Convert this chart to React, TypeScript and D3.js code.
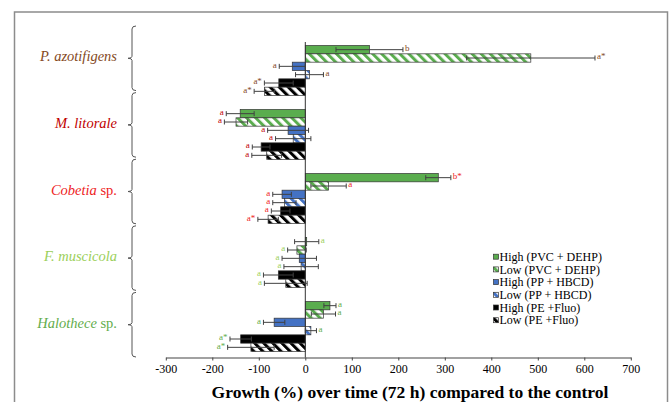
import React, { useEffect, useRef } from 'react';
import * as d3 from 'd3';

// species (top to bottom) and their label colours
const species = ['P. azotifigens', 'M. litorale', 'Cobetia sp.', 'F. muscicola', 'Halothece sp.'];
const speciesColors = ['#84491d', '#c00000', '#ee1c24', '#9bcf5a', '#63ad4c'];

// series, in drawing order within each group
const seriesNames = ['High (PVC + DEHP)', 'Low (PVC + DEHP)', 'High (PP + HBCD)', 'Low (PP + HBCD)', 'High (PE +Fluo)', 'Low (PE +Fluo)'];

// growth (%) per species, for each series
const highPVC = [138, -140, 286, 3, 53];
const lowPVC = [485, -149, 50, -18, 39];
const highPP = [-28, -37, -50, -13, -67];
const lowPP = [9, -26, -45, -9, 12];
const highPE = [-57, -95, -53, -58, -139];
const lowPE = [-88, -83, -80, -42, -117];

// standard deviations
const sdHighPVC = [72, 30, 27, 26, 13];
const sdLowPVC = [138, 25, 38, 20, 26];
const sdHighPP = [28, 44, 20, 37, 23];
const sdLowPP = [30, 38, 25, 37, 12];
const sdHighPE = [31, 19, 20, 32, 23];
const sdLowPE = [22, 32, 22, 46, 50];

// significance letters
const letHighPVC = ['b', 'a', 'b*', 'a', 'a'];
const letLowPVC = ['a*', 'a', 'a', 'a', 'a'];
const letHighPP = ['a', 'a', 'a', 'a', 'a'];
const letLowPP = ['a', 'a', 'a', 'a', 'a'];
const letHighPE = ['a*', 'a', 'a', 'a', 'a*'];
const letLowPE = ['a*', 'a', 'a*', 'a', 'a*'];

const xTicks = [-300, -200, -100, 0, 100, 200, 300, 400, 500, 600, 700];

const FONT = "'Liberation Serif', 'Times New Roman', Tinos, 'DejaVu Serif', serif";

const App = () => {
  const svgRef = useRef(null);

  useEffect(() => {
    const svg = d3.select(svgRef.current);
    svg.selectAll('*').remove();

    const series = [
      { name: seriesNames[0], values: highPVC, sd: sdHighPVC, letters: letHighPVC, color: '#5aad4e', hatch: false },
      { name: seriesNames[1], values: lowPVC, sd: sdLowPVC, letters: letLowPVC, color: '#5aad4e', hatch: true },
      { name: seriesNames[2], values: highPP, sd: sdHighPP, letters: letHighPP, color: '#4472c4', hatch: false },
      { name: seriesNames[3], values: lowPP, sd: sdLowPP, letters: letLowPP, color: '#4472c4', hatch: true },
      { name: seriesNames[4], values: highPE, sd: sdHighPE, letters: letHighPE, color: '#000000', hatch: false },
      { name: seriesNames[5], values: lowPE, sd: sdLowPE, letters: letLowPE, color: '#000000', hatch: true },
    ];

    const x = d3.scaleLinear().domain([-300, 700]).range([165.8, 630.8]);
    const axisY = 357.5;

    const yGroup = d3.scaleBand()
      .domain(species)
      .range([38.5, 358.5])
      .paddingInner(0.21875)
      .paddingOuter(0.109375);

    const yInner = d3.scaleBand()
      .domain(seriesNames)
      .range([0, yGroup.bandwidth()]);

    // the bracketed labels on the left sit on their own spacing
    const yLabel = d3.scaleBand().domain(species).range([25, 358]);

    // outer frame
    svg.append('rect')
      .attr('x', 14.5)
      .attr('y', 12)
      .attr('width', 653)
      .attr('height', 400)
      .attr('fill', 'white')
      .attr('stroke', '#8c8c8c')
      .attr('stroke-width', 1.5);

    // hatch patterns for the "Low" series
    const defs = svg.append('defs');
    series.forEach((s, i) => {
      if (!s.hatch) return;
      const p = defs.append('pattern')
        .attr('id', `hatch-${i}`)
        .attr('patternUnits', 'userSpaceOnUse')
        .attr('width', 6.4)
        .attr('height', 6.4)
        .attr('patternTransform', 'rotate(-45)');
      p.append('rect').attr('width', 6.4).attr('height', 6.4).attr('fill', 'white');
      p.append('rect').attr('width', 3).attr('height', 6.4).attr('fill', s.color);
    });

    const fillOf = (s, i) => (s.hatch ? `url(#hatch-${i})` : s.color);

    // bars
    series.forEach((s, j) => {
      const g = svg.append('g');
      g.selectAll('rect')
        .data(species)
        .enter().append('rect')
        .attr('x', (d, i) => x(Math.min(0, s.values[i])))
        .attr('y', d => yGroup(d) + yInner(s.name))
        .attr('width', (d, i) => Math.abs(x(s.values[i]) - x(0)))
        .attr('height', yInner.bandwidth())
        .attr('fill', fillOf(s, j))
        .attr('stroke', '#333')
        .attr('stroke-width', 0.7);
    });

    // zero line
    svg.append('line')
      .attr('x1', x(0)).attr('x2', x(0))
      .attr('y1', 42).attr('y2', axisY)
      .attr('stroke', '#333')
      .attr('stroke-width', 1);

    // error bars and letters
    series.forEach(s => {
      species.forEach((sp, i) => {
        const v = s.values[i];
        const e = s.sd[i];
        const cy = yGroup(sp) + yInner(s.name) + yInner.bandwidth() / 2;
        const g = svg.append('g').attr('stroke', '#404040').attr('stroke-width', 1);
        g.append('line').attr('x1', x(v - e)).attr('x2', x(v + e)).attr('y1', cy).attr('y2', cy);
        [v - e, v + e].forEach(end => {
          g.append('line').attr('x1', x(end)).attr('x2', x(end)).attr('y1', cy - 2.5).attr('y2', cy + 2.5);
        });
        svg.append('text')
          .attr('x', v >= 0 ? x(v + e) + 2 : x(v - e) - 2.5)
          .attr('y', cy - 1.5)
          .attr('dy', '0.32em')
          .attr('text-anchor', v >= 0 ? 'start' : 'end')
          .style('font-family', FONT)
          .attr('font-size', 9)
          .attr('fill', speciesColors[i])
          .text(s.letters[i]);
      });
    });

    // x axis
    const axis = svg.append('g')
      .attr('transform', `translate(0,${axisY})`)
      .call(d3.axisBottom(x).tickValues(xTicks).tickSize(3).tickSizeOuter(0).tickPadding(4).tickFormat(d => String(d)));
    axis.select('.domain').attr('stroke', '#444').attr('stroke-width', 1.2);
    axis.selectAll('.tick line').attr('stroke', '#444');
    axis.selectAll('.tick text')
      .style('font-family', FONT)
      .attr('font-size', 12)
      .attr('fill', 'black');

    svg.append('text')
      .attr('x', 410)
      .attr('y', 398)
      .attr('text-anchor', 'middle')
      .style('font-family', FONT)
      .attr('font-size', 17.5)
      .attr('font-weight', 'bold')
      .text('Growth (%) over time (72 h) compared to the control');

    // species brackets and labels
    species.forEach((sp, i) => {
      const top = yLabel(sp) + 1;
      const bot = yLabel(sp) + yLabel.bandwidth() - 1;
      const mid = (top + bot) / 2;
      const bx = 132;
      svg.append('path')
        .attr('d', `M${bx + 4},${top} Q${bx},${top} ${bx},${top + 3} L${bx},${mid - 2} Q${bx},${mid} ${bx - 4},${mid} Q${bx},${mid} ${bx},${mid + 2} L${bx},${bot - 3} Q${bx},${bot} ${bx + 4},${bot}`)
        .attr('fill', 'none')
        .attr('stroke', '#555')
        .attr('stroke-width', 1);

      const t = svg.append('text')
        .attr('x', 117)
        .attr('y', mid)
        .attr('dy', '0.22em')
        .attr('text-anchor', 'end')
        .style('font-family', FONT)
        .attr('font-size', 14.5)
        .attr('fill', speciesColors[i]);
      const parts = sp.split(' ');
      if (parts[1] === 'sp.') {
        t.append('tspan').attr('font-style', 'italic').text(parts[0]);
        t.append('tspan').text(' sp.');
      } else {
        t.append('tspan').attr('font-style', 'italic').text(sp);
      }
    });

    // legend
    const legend = svg.selectAll('.legend')
      .data(series)
      .enter().append('g')
      .attr('class', 'legend')
      .attr('transform', (d, i) => `translate(493.5, ${256.7 + i * 12.7})`);

    legend.append('rect')
      .attr('x', 0)
      .attr('y', -2.5)
      .attr('width', 5)
      .attr('height', 5)
      .attr('fill', (d, i) => fillOf(d, i))
      .attr('stroke', '#333')
      .attr('stroke-width', 0.7);

    legend.append('text')
      .attr('x', 6)
      .attr('dy', '0.35em')
      .style('font-family', FONT)
      .attr('font-size', 12)
      .text(d => d.name);
  }, []);

  return (
    <svg ref={svgRef} width="669" height="402" style={{ position: 'absolute', left: 0, top: 0, fontFamily: FONT }}></svg>
  );
};

export default App;
